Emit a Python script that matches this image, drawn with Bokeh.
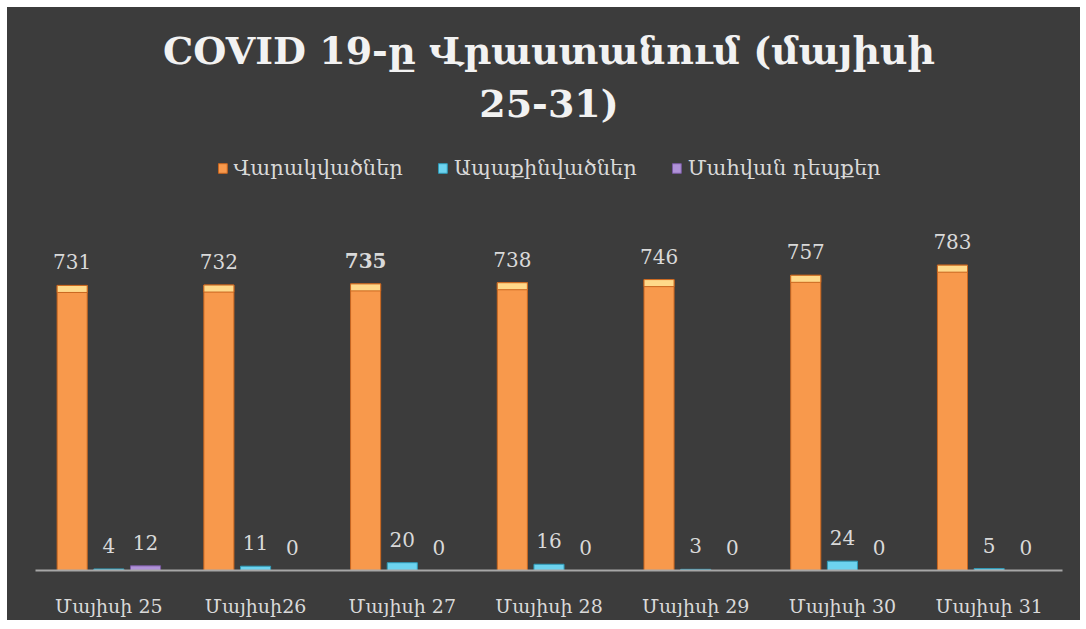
from bokeh.plotting import figure
from bokeh.models import (FactorRange, Range1d, ColumnDataSource, Legend, LegendItem, Title)
from bokeh.transform import dodge
from bokeh.core.properties import value
from bokeh.embed import file_html
from bokeh.resources import INLINE

# ---- data ----
dates = ["Մայիսի 25", "Մայիսի26", "Մայիսի 27", "Մայիսի 28", "Մայիսի 29", "Մայիսի 30", "Մայիսի 31"]
infected = [731, 732, 735, 738, 746, 757, 783]
recovered = [4, 11, 20, 16, 3, 24, 5]
deaths = [12, 0, 0, 0, 0, 0, 0]
series_names = ["Վարակվածներ", "Ապաքինվածներ", "Մահվան դեպքեր"]
title_lines = ["COVID 19-ը Վրաստանում (մայիսի", "25-31)"]

FONT = "DejaVu Serif"
BG = "#3c3c3c"
TXT = "#d9d9d9"

bold_label = [("bold" if v == 735 else "normal") for v in infected]

src = ColumnDataSource(dict(
    date=dates,
    inf=infected, rec=recovered, dth=deaths,
    inf_t=[str(v) for v in infected],
    rec_t=[str(v) for v in recovered],
    dth_t=[str(v) for v in deaths],
    inf_hi=[v - 18 for v in infected],
    inf_style=bold_label,
))

p = figure(x_range=FactorRange(*dates, range_padding=0), y_range=Range1d(0, 1136),
           width=1073, height=613, margin=(7, 0, 0, 7),
           output_backend="svg", toolbar_location=None,
           min_border_left=28, min_border_right=18, min_border_bottom=50, min_border_top=120,
           background_fill_color=BG, border_fill_color=BG)
p.outline_line_color = None
p.styles = {"background-color": BG}

W = 0.205
r1 = p.vbar(x=dodge('date', -0.25, range=p.x_range), top='inf', width=W, source=src,
            fill_color="#f8994c", line_color="#c9661f", line_width=1)
p.vbar(x=dodge('date', -0.25, range=p.x_range), top='inf', bottom='inf_hi', width=W, source=src,
       fill_color="#ffd98a", line_color="#c9661f", line_width=1)
r2 = p.vbar(x=dodge('date', 0.0, range=p.x_range), top='rec', width=W, source=src,
            fill_color="#6dd3ef", line_color="#2f9bb8", line_width=1)
r3 = p.vbar(x=dodge('date', 0.25, range=p.x_range), top='dth', width=W, source=src,
            fill_color="#b092d8", line_color="#7a5aa3", line_width=1)

common = dict(text_align="center", text_baseline="bottom", text_color=TXT,
              text_font=value(FONT), text_font_size="20px", y_offset=-16)
p.text(x=dodge('date', -0.25, range=p.x_range), y='inf', text='inf_t', source=src,
       text_font_style='inf_style', **common)
p.text(x=dodge('date', 0.0, range=p.x_range), y='rec', text='rec_t', source=src, **common)
p.text(x=dodge('date', 0.25, range=p.x_range), y='dth', text='dth_t', source=src, **common)

legend = Legend(items=[LegendItem(label=series_names[0], renderers=[r1]),
                       LegendItem(label=series_names[1], renderers=[r2]),
                       LegendItem(label=series_names[2], renderers=[r3])],
                orientation="horizontal", location="top_center",
                background_fill_alpha=0, border_line_alpha=0,
                label_text_color=TXT, label_text_font=FONT, label_text_font_size="21px",
                glyph_width=11, glyph_height=12, spacing=34, label_standoff=6,
                margin=29, padding=0)
p.add_layout(legend, "center")

for i, line in reversed(list(enumerate(title_lines))):
    p.add_layout(Title(text=line, align="center", text_color="#f2f2f2", text_font=FONT,
                       text_font_size="38px", text_font_style="bold",
                       standoff=(7 if i == 0 else 4)), "above")

p.yaxis.visible = False
p.xgrid.grid_line_color = None
p.ygrid.grid_line_color = None
p.xaxis.axis_line_color = "#a6a6a6"
p.xaxis.axis_line_width = 2
p.xaxis.major_tick_line_color = None
p.xaxis.minor_tick_line_color = None
p.xaxis.major_label_text_color = TXT
p.xaxis.major_label_text_font = FONT
p.xaxis.major_label_text_font_size = "19px"
p.xaxis.major_label_standoff = 18

open("out.html", "w").write(file_html(p, INLINE))
